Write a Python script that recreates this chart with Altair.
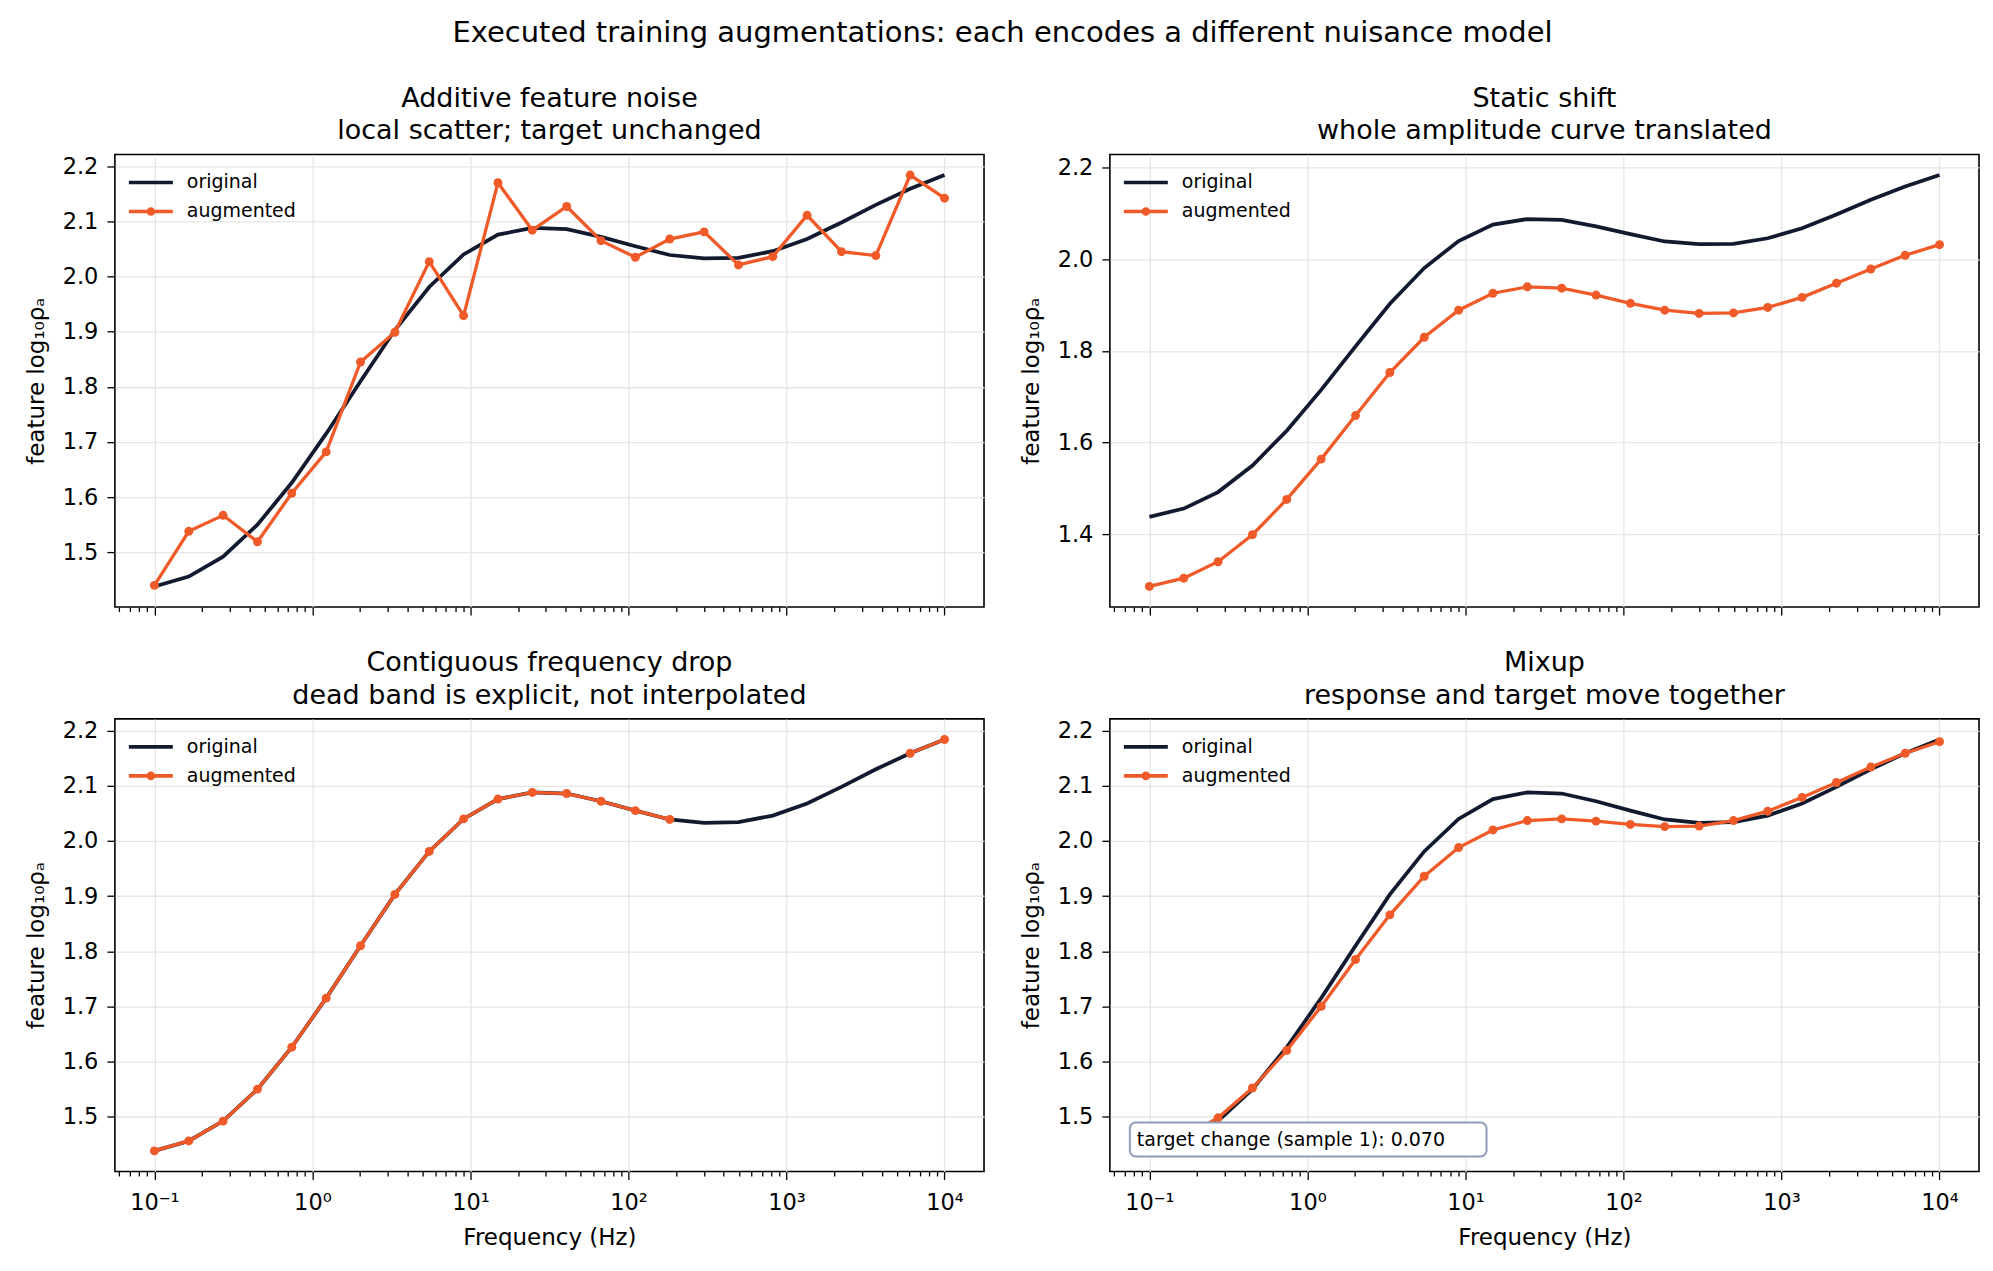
import math

import altair as alt
import pandas as pd

NAVY = "#111a2e"
ORANGE = "#f05a28"
FONT = "DejaVu Sans"

# Frequencies (Hz), 24 log-spaced samples
freq = [0.1, 0.165, 0.272, 0.449, 0.74, 1.222, 2.016, 3.326, 5.486, 9.051,
        14.93, 24.64, 40.65, 67.06, 110.6, 182.5, 301.1, 496.8, 818.6, 1350.5,
        2228, 3676, 6064, 10000]

# Clean response, identical in every panel
original = [1.438, 1.456, 1.492, 1.550, 1.626, 1.715, 1.810, 1.903, 1.981, 2.040,
            2.076, 2.088, 2.086, 2.072, 2.055, 2.039, 2.033, 2.034, 2.046, 2.068,
            2.098, 2.130, 2.159, 2.184]

# Augmented responses, one per panel
noise_aug = [1.440, 1.538, 1.567, 1.519, 1.607, 1.682, 1.845, 1.899, 2.027, 1.929,
             2.170, 2.084, 2.127, 2.065, 2.035, 2.068, 2.081, 2.021, 2.036, 2.111,
             2.045, 2.038, 2.184, 2.142]
shift_aug = [1.286, 1.304, 1.340, 1.399, 1.476, 1.564, 1.659, 1.753, 1.830, 1.889,
             1.926, 1.940, 1.937, 1.922, 1.904, 1.889, 1.882, 1.883, 1.895, 1.917,
             1.948, 1.979, 2.009, 2.032]
drop_aug = [1.438, 1.456, 1.492, 1.550, 1.626, 1.715, 1.810, 1.903, 1.981, 2.040,
            2.076, 2.088, 2.086, 2.072, 2.055, 2.039, None, None, None, None,
            None, None, 2.159, 2.184]
mixup_aug = [1.447, 1.462, 1.498, 1.552, 1.620, 1.700, 1.785, 1.866, 1.936, 1.988,
             2.020, 2.037, 2.040, 2.036, 2.030, 2.026, 2.027, 2.037, 2.054, 2.079,
             2.106, 2.134, 2.159, 2.180]
target_change = 0.070

titles = [
    ["Additive feature noise", "local scatter; target unchanged"],
    ["Static shift", "whole amplitude curve translated"],
    ["Contiguous frequency drop", "dead band is explicit, not interpolated"],
    ["Mixup", "response and target move together"],
]
yticks_fine = [1.5, 1.6, 1.7, 1.8, 1.9, 2.0, 2.1, 2.2]
yticks_coarse = [1.4, 1.6, 1.8, 2.0, 2.2]

series = ["original", "augmented"]
major_ticks = [0.1, 1, 10, 100, 1000, 10000]
major_labels = ["10⁻¹", "10⁰", "10¹", "10²", "10³", "10⁴"]
minor_ticks = [0.06, 0.07, 0.08, 0.09,
               0.2, 0.3, 0.4, 0.5, 0.6, 0.7, 0.8, 0.9,
               2, 3, 4, 5, 6, 7, 8, 9,
               20, 30, 40, 50, 60, 70, 80, 90,
               200, 300, 400, 500, 600, 700, 800, 900,
               2000, 3000, 4000, 5000, 6000, 7000, 8000, 9000]

W, H = 870, 453

# legend glyphs: plain stroke, and stroke with a dot in the middle
LINE_PATH = "M -2.2 0 L 2.2 0"
DOT_PATH = "M -2.2 0 L 2.2 0 M 0.25 0 A 0.25 0.25 0 1 1 -0.25 0 A 0.25 0.25 0 1 1 0.25 0"

majors_js = "[" + ",".join(str(v) for v in major_ticks) + "]"
labels_js = "[" + ",".join("'" + s + "'" for s in major_labels) + "]"
is_major = f"indexof({majors_js}, datum.value) >= 0"
x_label_expr = f"{is_major} ? {labels_js}[indexof({majors_js}, datum.value)] : ''"


def panel(aug, title, yticks, bottom_row, note=None):
    orig_df = pd.DataFrame({"freq": freq, "value": original})
    aug_df = pd.DataFrame({"freq": freq, "value": aug})
    aug_df["seg"] = aug_df["value"].isna().cumsum()
    aug_df = aug_df.dropna()

    # matplotlib-like 5% margins
    vals = original + [v for v in aug if v is not None]
    lo, hi = min(vals), max(vals)
    pad = 0.05 * (hi - lo)
    ydom = [lo - pad, hi + pad]
    lmin, lmax = math.log10(min(freq)), math.log10(max(freq))
    lpad = 0.05 * (lmax - lmin)
    xdom = [10 ** (lmin - lpad), 10 ** (lmax + lpad)]

    x_kw = dict(
        values=major_ticks + minor_ticks,
        labelExpr=x_label_expr,
        labels=bottom_row,
        tickSize={"condition": {"test": is_major, "value": 8}, "value": 4.5},
        gridOpacity={"condition": {"test": is_major, "value": 1}, "value": 0},
        labelPadding=12,
        labelFlush=False,
        labelOverlap=False,
    )
    if bottom_row:
        x_kw.update(title="Frequency (Hz)", titleY=73, titleBaseline="alphabetic")
    else:
        x_kw.update(title="")
    x_enc = alt.X("freq:Q", scale=alt.Scale(type="log", domain=xdom, nice=False),
                  axis=alt.Axis(**x_kw))
    y_enc = alt.Y(
        "value:Q",
        scale=alt.Scale(domain=ydom, nice=False, zero=False),
        axis=alt.Axis(values=yticks, format=".1f", title="feature log₁₀ρₐ",
                      titleX=-71, titleBaseline="alphabetic", tickSize=8,
                      labelPadding=9),
    )

    orig_line = alt.Chart(orig_df).mark_line(color=NAVY, strokeWidth=3.75).encode(x_enc, y_enc)
    aug_line = alt.Chart(aug_df).mark_line(color=ORANGE, strokeWidth=3.3).encode(
        x_enc, y_enc, detail="seg:N")
    aug_pts = alt.Chart(aug_df).mark_circle(color=ORANGE, size=80, opacity=1).encode(x_enc, y_enc)

    leg = alt.Legend(orient="none", legendX=24, legendY=16, title=None, padding=0,
                     labelFontSize=19, labelFont=FONT, labelColor="black",
                     symbolSize=400, symbolStrokeWidth=3.6, rowPadding=7, labelOffset=24)
    legend_layer = (
        alt.Chart(pd.DataFrame({"series": series}))
        .transform_filter("false")
        .mark_point(filled=False, opacity=1, strokeWidth=3.6, size=400)
        .encode(
            color=alt.Color("series:N", scale=alt.Scale(domain=series, range=[NAVY, ORANGE]), legend=leg),
            shape=alt.Shape("series:N", scale=alt.Scale(domain=series, range=[LINE_PATH, DOT_PATH]), legend=leg),
        )
    )

    layers = [orig_line, aug_line, aug_pts]
    if note is not None:
        note_df = pd.DataFrame({"note": [note]})
        layers.append(
            alt.Chart(note_df).mark_rect(fill="white", stroke="#8d9dba", strokeWidth=2,
                                         cornerRadius=6).encode(
                x=alt.value(20), x2=alt.value(377), y=alt.value(404), y2=alt.value(438))
        )
        layers.append(
            alt.Chart(note_df).mark_text(align="left", baseline="alphabetic", fontSize=19,
                                         font=FONT, color="black").encode(
                x=alt.value(27), y=alt.value(428), text="note:N")
        )
    layers.append(legend_layer)

    return alt.layer(*layers).properties(
        width=W, height=H,
        title=alt.Title(title, fontSize=27, lineHeight=33, offset=9),
    )


p1 = panel(noise_aug, titles[0], yticks_fine, False)
p2 = panel(shift_aug, titles[1], yticks_coarse, False)
p3 = panel(drop_aug, titles[2], yticks_fine, True)
p4 = panel(mixup_aug, titles[3], yticks_fine, True,
           note=f"target change (sample 1): {target_change:.3f}")


def indep(c):
    return c.resolve_scale(color="independent", shape="independent").resolve_legend(
        color="independent", shape="independent")


top = indep(alt.hconcat(p1, p2, spacing=35))
bottom = indep(alt.hconcat(p3, p4, spacing=35))

chart = (
    indep(alt.vconcat(top, bottom, spacing=31))
    .properties(
        title=alt.Title("Executed training augmentations: each encodes a different nuisance model",
                        fontSize=29, anchor="middle", offset=36),
        padding={"left": 17, "top": 10, "right": 5, "bottom": 5},
    )
    .configure(font=FONT)
    .configure_view(stroke="black", strokeWidth=1.6)
    .configure_axis(
        domain=False, labelFontSize=22.5, titleFontSize=23, labelColor="black",
        titleColor="black", tickColor="black", tickWidth=1.3, gridColor="#e6e6e6",
        gridWidth=1.3, titleFontWeight="normal", labelFont=FONT, titleFont=FONT,
    )
    .configure_title(font=FONT, fontWeight="normal", color="black")
)

chart.save("out.html", embed_options={"renderer": "svg", "actions": False})
